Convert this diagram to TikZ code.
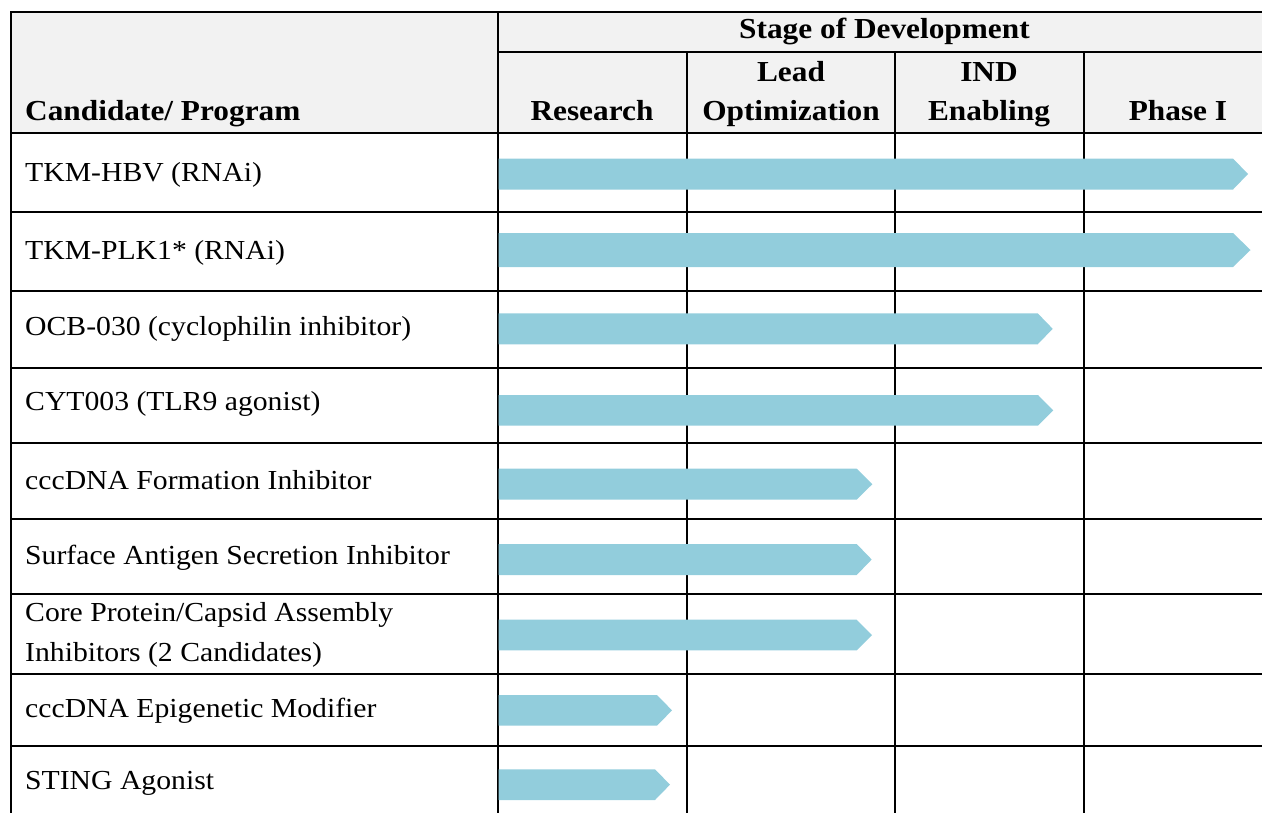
\documentclass[tikz,border=0pt]{standalone}
\usepackage{fontspec}
\setmainfont{Liberation Serif}[FakeStretch=1.08]
\definecolor{barblue}{HTML}{92CDDC}
\definecolor{hdrgray}{HTML}{F2F2F2}
\newcommand\stagebar[4]{\fill[barblue] (498.5,#1) -- (#3,#1) -- (#4,{(#1+#2)/2}) -- (#3,#2) -- (498.5,#2) -- cycle;}
\begin{document}
\begin{tikzpicture}[x=1pt,y=-1pt,
  grid/.style={line width=2pt, black},
  lbl/.style={anchor=base west, inner sep=0pt, font=\fontsize{27.5}{40}\selectfont},
  hd/.style={anchor=base, inner sep=0pt, font=\fontsize{29}{38}\selectfont\bfseries}]
\useasboundingbox (0,0) rectangle (1262,812);
\fill[hdrgray] (11,12) rectangle (1272,132.5);
% grid
\draw[grid] (1272,12) -- (11,12) -- (11,822);
\draw[grid] (497.5,12) -- (497.5,822);
\draw[grid] (497.5,52) -- (1272,52);
\foreach \x in {687,895,1084} \draw[grid] (\x,52) -- (\x,822);
\foreach \y in {132.5,212,291,368,443,518.5,594,674,746} \draw[grid] (11,\y) -- (1272,\y);
% bars
\stagebar{158.5}{189.5}{1233}{1248}
\stagebar{233}{267}{1233}{1250.5}
\stagebar{313.3}{344.3}{1037.7}{1052.7}
\stagebar{395}{425.7}{1038}{1053.3}
\stagebar{468.7}{499.7}{856.7}{872.3}
\stagebar{544}{575}{856.7}{871.7}
\stagebar{619.7}{650.3}{856.7}{872}
\stagebar{695}{725.7}{657}{672}
\stagebar{769.3}{800}{655}{670}
% header
\node[hd, anchor=base west] (cand) at (25,120) {Candidate/ Program};
\node[hd] (stage) at (884.5,38) {Stage of Development};
\node[hd] (res) at (592,120) {Research};
\node[hd] (lead1) at (791,81.7) {Lead};
\node[hd] (lead2) at (791,120) {Optimization};
\node[hd] (ind1) at (989,81.7) {IND};
\node[hd] (ind2) at (989,120) {Enabling};
\node[hd] (ph1) at (1178,120) {Phase I};
% labels
\node[lbl] (r1) at (25,181) {TKM-HBV (RNAi)};
\node[lbl] (r2) at (25,259.3) {TKM-PLK1* (RNAi)};
\node[lbl] (r3) at (25,335) {OCB-030 (cyclophilin inhibitor)};
\node[lbl] (r4) at (25,410) {CYT003 (TLR9 agonist)};
\node[lbl] (r5) at (25,489.3) {cccDNA Formation Inhibitor};
\node[lbl] (r6) at (25,564.3) {Surface Antigen Secretion Inhibitor};
\node[lbl] (r7a) at (25,621.7) {Core Protein/Capsid Assembly};
\node[lbl] (r7b) at (25,661.7) {Inhibitors (2 Candidates)};
\node[lbl] (r8) at (25,717.7) {cccDNA Epigenetic Modifier};
\node[lbl] (r9) at (25,789.3) {STING Agonist};
\end{tikzpicture}
\end{document}
